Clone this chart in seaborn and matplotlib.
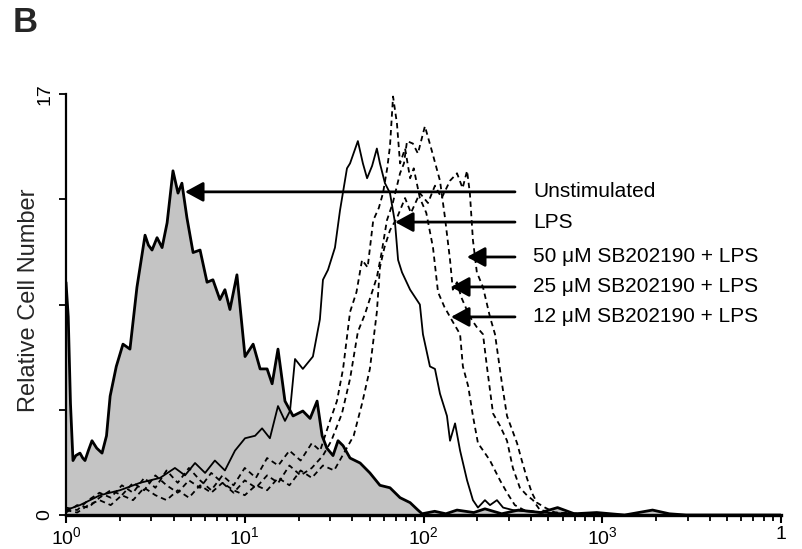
import numpy as np
import matplotlib
matplotlib.use("Agg")
import matplotlib.pyplot as plt
import seaborn as sns
from matplotlib.ticker import FixedLocator, FixedFormatter, LogLocator, NullFormatter

# Flow cytometry histograms: 256 channels spread over 4 log decades,
# counts in "relative cell number"
unstim_ch = [0, 0.8, 1.6, 2.5, 3.5, 5.0, 6.0, 6.8, 8.0, 9.3, 11.0, 12.9, 14.5, 15.8, 18.0,
             20.4, 22.9, 25.4, 28.3, 29.5, 30.8, 32.6, 34.4, 36.2, 38.3, 40.1, 41.5, 43.3,
             45.5, 48.0, 50.5, 52.6, 55.1, 56.9, 58.7, 61.2, 64.1, 67.0, 69.5, 72.0, 73.8,
             75.9, 78.4, 81.3, 84.8, 87.4, 89.9, 91.7, 93.4, 95.6, 97.4, 99.2, 101.7, 105.3,
             108.8, 112.4, 116.0, 119.6, 123.2, 126.0, 127.5, 132, 136, 140, 146, 150, 156,
             162, 170, 176, 182, 190, 200, 210, 216, 222, 256]
unstim_n = [9.4, 8.0, 4.5, 2.2, 2.4, 2.5, 2.3, 2.2, 2.6, 3.0, 2.7, 2.5, 3.2, 4.8, 6.0,
            6.9, 6.7, 9.2, 11.3, 10.9, 10.7, 11.2, 10.8, 11.8, 13.9, 13.0, 13.4, 12.0,
            10.6, 10.7, 9.4, 9.5, 8.7, 9.1, 8.3, 9.7, 6.4, 6.9, 5.9, 5.9, 5.3,
            6.7, 4.6, 4.0, 4.2, 3.9, 4.6, 3.2, 2.7, 2.4, 3.0, 2.8, 2.3, 2.1,
            1.7, 1.2, 1.1, 0.7, 0.5, 0.2, 0.05, 0.15, 0.05, 0.2, 0.1, 0.25, 0.05,
            0.2, 0.1, 0.3, 0.05, 0.1, 0.0, 0.2, 0.05, 0.0, 0.0]

lps_ch = [0, 5.0, 12.2, 19.3, 26.5, 33.7, 39.0, 42.6, 46.2, 49.8, 53.3, 56.9, 60.5, 64.1,
          67.7, 70.2, 73.0, 75.9, 78.4, 80.2, 82.0, 84.8, 88.4, 90.9, 92.0, 93.8, 96.3,
          98.1, 100.6, 101.7, 104.5, 106.3, 107.8, 109.6, 111.3, 112.4, 114.2, 116.0,
          117.8, 118.9, 120.3, 123.2, 126.7, 127.8, 130.3, 132.1, 133.9, 136.4, 137.5,
          139.3, 141.1, 143.6, 145.7, 147.5, 150.0, 151.8, 154.3, 156.5, 160.0, 170, 180,
          200, 256]
lps_n = [0.2, 0.4, 0.8, 1.0, 1.3, 1.5, 1.9, 1.6, 2.1, 1.7, 2.2, 1.8, 2.6, 3.1,
         3.2, 3.5, 3.1, 4.4, 3.8, 4.2, 6.3, 5.9, 6.4, 7.9, 9.5, 9.9, 10.8,
         12.3, 14.0, 14.2, 15.1, 14.2, 13.6, 14.1, 14.8, 14.2, 13.4, 13.0,
         11.8, 10.3, 9.8, 9.1, 8.5, 7.3, 6.0, 5.9, 4.9, 4.0, 3.0,
         3.7, 2.6, 1.4, 0.6, 0.3, 0.6, 0.4, 0.6, 0.3, 0.2, 0.1, 0.05,
         0.0, 0.0]

sb12_ch = [0, 4, 8, 12, 16, 20, 24, 28, 32, 36, 40, 44, 48, 52, 56, 60, 64, 68, 72, 76,
           80, 84, 88, 91, 94.5, 97, 99.2, 101.7, 104, 106, 108, 110, 112, 113.5, 115,
           116, 117.1, 118.5, 119.6, 121.4, 123.2, 124.5, 126.7, 129, 131.4, 133.2,
           135.5, 138.5, 141.1, 142.1, 144, 145.7, 147.5, 150, 151.8, 155.4, 157.9,
           160.7, 164, 170, 185, 256]
sb12_n = [0.3, 0.2, 0.6, 0.9, 0.7, 1.2, 0.9, 1.5, 1.1, 1.8, 1.3, 1.9, 1.4, 1.0, 1.6,
          1.2, 1.9, 1.5, 2.3, 2.0, 2.6, 2.2, 2.9, 2.6, 3.8, 4.6, 5.9, 8.2, 9.0, 10.3,
          10.0, 11.9, 12.4, 13.0, 14.0, 14.9, 16.9, 15.8, 14.2, 14.8, 13.6, 14.0, 12.8,
          12.2, 10.8, 9.0, 8.4, 7.8, 7.3, 6.0, 5.2, 4.0, 2.9, 2.5, 2.2, 1.4, 0.9, 0.4,
          0.2, 0.1, 0.0, 0.0]

sb25_ch = [0, 4, 8, 12, 16, 20, 24, 28, 32, 36, 40, 44, 48, 52, 56, 60, 64, 68, 72, 76,
           80, 84, 88, 92, 95, 98.8, 101.7, 104.5, 107, 109, 111.3, 113, 114.9, 117,
           119.6, 121, 122.1, 124.2, 126, 128.5, 131, 133.9, 135.7, 137.5, 138.5, 140,
           141.5, 144.6, 147, 149.3, 150.7, 152.9, 155.4, 157.9, 160, 162.5, 165, 167.2,
           169.7, 175, 190, 256]
sb25_n = [0.1, 0.4, 0.3, 0.7, 1.0, 0.8, 1.3, 1.0, 1.6, 1.2, 0.9, 1.4, 1.1, 1.7, 1.3,
          0.9, 1.4, 1.1, 1.6, 1.3, 2.0, 1.6, 1.9, 2.4, 3.0, 4.1, 5.5, 7.4, 8.1, 8.8,
          9.6, 10.6, 11.9, 12.6, 13.8, 14.2, 15.1, 15.0, 14.6, 15.7, 14.7, 13.5, 12.0,
          10.3, 9.1, 9.4, 8.8, 8.0, 7.6, 7.3, 6.0, 4.1, 3.6, 3.0, 1.9, 1.1, 0.8, 0.6,
          0.2, 0.1, 0.0, 0.0]

sb50_ch = [0, 4, 8, 12, 16, 20, 24, 28, 32, 36, 40, 44, 48, 52, 56, 60, 64, 68, 72, 76,
           80, 84, 88, 92, 96, 100, 103, 106, 108.8, 111.3, 112.4, 114, 116, 118.5,
           121.4, 123.5, 126.7, 129.6, 132.1, 134.5, 137.5, 140, 142, 143.6, 144.6,
           145.7, 147.1, 149.3, 151.8, 153.6, 156.1, 157.9, 161.5, 163.2, 165, 166.8,
           168.6, 171.5, 175.1, 185, 200, 256]
sb50_n = [0.2, 0.1, 0.4, 0.6, 0.4, 0.8, 0.6, 1.1, 0.8, 0.6, 1.0, 0.7, 1.2, 0.9, 1.3,
          1.0, 0.8, 1.2, 1.0, 1.5, 1.2, 1.8, 1.5, 2.0, 1.8, 2.6, 3.2, 4.5, 5.9, 8.2,
          10.0, 10.8, 11.5, 12.0, 12.8, 12.2, 13.0, 12.6, 13.3, 12.8, 13.5, 13.8, 13.2,
          13.9, 13.0, 11.1, 9.8, 9.2, 8.0, 7.3, 5.3, 4.0, 2.9, 2.2, 1.5, 0.9, 0.5,
          0.3, 0.1, 0.05, 0.0, 0.0]

# arrow labels: text, arrow tip (fluorescence, count)
arrow_labels = ["Unstimulated", "LPS", "50 \u03bcM SB202190 + LPS",
                "25 \u03bcM SB202190 + LPS", "12 \u03bcM SB202190 + LPS"]
arrow_tip_x = [4.63, 69.3, 175, 142.5, 142.5]
arrow_y = [13.05, 11.83, 10.42, 9.21, 8.0]
arrow_tail_x = 325
label_x = 410

x_ticks = [1, 10, 100, 1000, 10000]
x_tick_labels = ["$10^{0}$", "$10^{1}$", "$10^{2}$", "$10^{3}$", "1"]
y_ticks = [0, 4.25, 8.5, 12.75, 17]
y_tick_labels = ["0", "", "", "", "17"]


def to_fl(ch):
    """Convert 256-channel log scale (4 decades) to fluorescence intensity."""
    return 10 ** (np.asarray(ch, dtype=float) / 64.0)


sns.set_style("ticks")
plt.rcParams["font.family"] = ["Liberation Sans", "DejaVu Sans"]
plt.rcParams["mathtext.fontset"] = "custom"
plt.rcParams["mathtext.rm"] = "Liberation Sans"
plt.rcParams["mathtext.it"] = "Liberation Sans:italic"
plt.rcParams["mathtext.bf"] = "Liberation Sans:bold"

fig = plt.figure(figsize=(8.03, 5.49), dpi=100)
ax = fig.add_axes([0.0822, 0.0619, 0.8904, 0.7668])
ax.set_xscale("log")

# filled unstimulated histogram
ax.fill_between(to_fl(unstim_ch), unstim_n, color="#c4c4c4", lw=0, zorder=1)

# SB202190 treated samples, dashed
for ch, n in [(sb12_ch, sb12_n), (sb25_ch, sb25_n), (sb50_ch, sb50_n)]:
    sns.lineplot(x=to_fl(ch), y=n, ax=ax, color="black", lw=1.3,
                 linestyle=(0, (3, 2.2)), estimator=None, sort=False, zorder=3)

# LPS, thin solid
sns.lineplot(x=to_fl(lps_ch), y=lps_n, ax=ax, color="black", lw=1.3,
             estimator=None, sort=False, zorder=4)

# unstimulated outline
sns.lineplot(x=to_fl(unstim_ch), y=unstim_n, ax=ax, color="black", lw=2.0,
             estimator=None, sort=False, zorder=5)

ax.set_xlim(1, 1e4)
ax.set_ylim(0, 17)
ax.set_xlabel("")
ax.set_ylabel("Relative Cell Number", fontsize=17)
ax.yaxis.set_label_coords(-0.036, 0.51)

ax.xaxis.set_major_locator(FixedLocator(x_ticks))
ax.xaxis.set_major_formatter(FixedFormatter(x_tick_labels))
ax.xaxis.set_minor_locator(LogLocator(base=10, subs=np.arange(2, 10)))
ax.xaxis.set_minor_formatter(NullFormatter())
ax.set_yticks(y_ticks)
ax.set_yticklabels(y_tick_labels, rotation=90, va="center")

ax.tick_params(axis="x", which="major", direction="out", length=6, width=1.5,
               labelsize=14, pad=2, colors="black")
ax.tick_params(axis="x", which="minor", direction="out", length=4, width=1.3,
               colors="black")
ax.tick_params(axis="y", which="major", direction="out", length=5, width=1.3,
               labelsize=14, pad=4, colors="black")

sns.despine(ax=ax)
ax.spines["left"].set_linewidth(1.6)
ax.spines["bottom"].set_linewidth(2.4)
ax.spines["left"].set_color("black")
ax.spines["bottom"].set_color("black")

# arrows pointing to each curve, with labels
for label, tip_x, y in zip(arrow_labels, arrow_tip_x, arrow_y):
    ax.annotate("", xy=(tip_x, y), xytext=(arrow_tail_x, y),
                arrowprops=dict(arrowstyle="-|>,head_length=1.1,head_width=0.6",
                                mutation_scale=10, lw=2.0, color="black",
                                shrinkA=0, shrinkB=0), zorder=6)
    ax.text(label_x, y, label, fontsize=15, ha="left", va="center", color="black")

fig.text(13 / 803, 1 - 6 / 549, "B", fontsize=25, fontweight="heavy",
         ha="left", va="top")

fig.savefig("out.png", dpi=100)
